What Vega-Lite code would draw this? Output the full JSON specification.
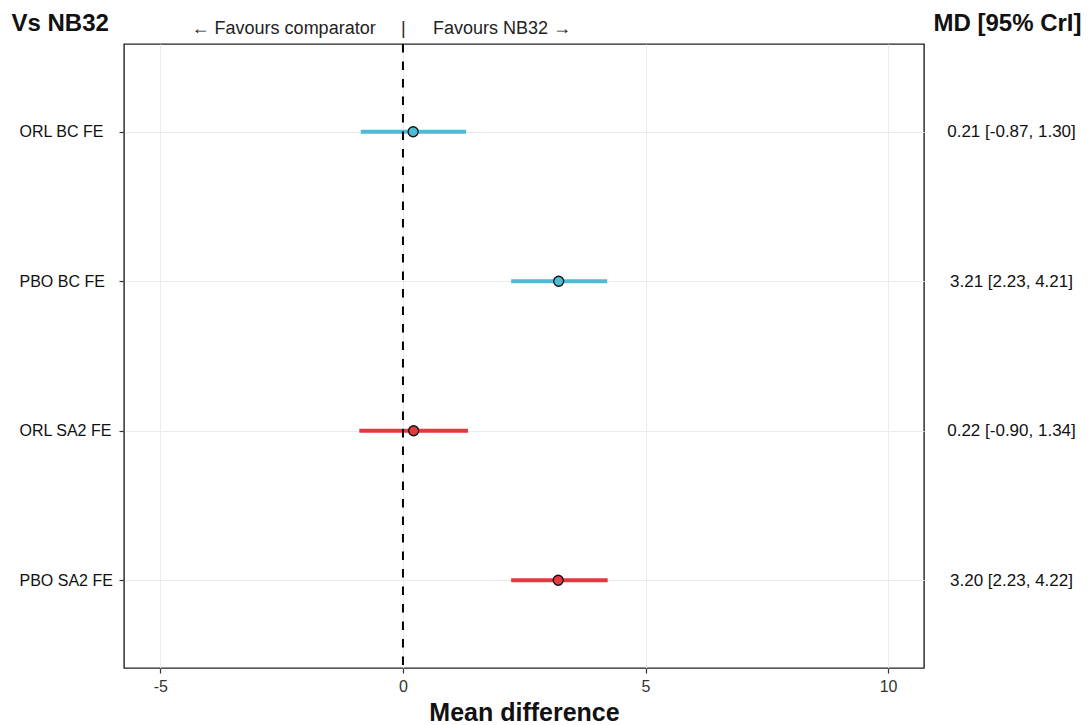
{
  "$schema": "https://vega.github.io/schema/vega-lite/v6.json",
  "width": 800,
  "height": 624,
  "autosize": {"type": "none"},
  "padding": {"left": 124, "top": 44, "right": 164, "bottom": 57},
  "background": "white",
  "config": {
    "view": {"stroke": "#222222", "strokeWidth": 1.4},
    "font": "Liberation Sans",
    "axis": {"labelFont": "Liberation Sans", "titleFont": "Liberation Sans"}
  },
  "data": {
    "values": [
      {"comparison": "ORL BC FE", "group": "BC", "md": 0.21, "lo": -0.87, "hi": 1.30, "ci": "0.21 [-0.87, 1.30]"},
      {"comparison": "PBO BC FE", "group": "BC", "md": 3.21, "lo": 2.23, "hi": 4.21, "ci": "3.21 [2.23, 4.21]"},
      {"comparison": "ORL SA2 FE", "group": "SA2", "md": 0.22, "lo": -0.90, "hi": 1.34, "ci": "0.22 [-0.90, 1.34]"},
      {"comparison": "PBO SA2 FE", "group": "SA2", "md": 3.20, "lo": 2.23, "hi": 4.22, "ci": "3.20 [2.23, 4.22]"}
    ]
  },
  "resolve": {"scale": {"y": "independent"}, "axis": {"x": "independent", "y": "independent"}},
  "layer": [
    {
      "layer": [
        {
          "mark": {"type": "rule", "strokeWidth": 4, "strokeCap": "butt"},
          "encoding": {
            "y": {
              "field": "comparison", "type": "nominal", "sort": null,
              "scale": {"type": "point", "padding": 0.587},
              "axis": {
                "title": "Vs NB32", "titleAngle": 0, "titleAlign": "left", "titleBaseline": "alphabetic",
                "titleX": -113, "titleY": -14, "titleFontSize": 24, "titleFontWeight": "bold", "titleColor": "#111111",
                "labelAlign": "left", "labelPadding": 100, "labelFontSize": 16, "labelColor": "#111111",
                "tickSize": 5, "tickColor": "#333333", "tickWidth": 1.2, "domain": false,
                "grid": true, "gridColor": "#EBEBEB", "gridWidth": 1
              }
            },
            "x": {
              "field": "lo", "type": "quantitative",
              "scale": {"domain": [-5.75, 10.74], "nice": false, "zero": false},
              "axis": {
                "title": "Mean difference", "titleFontSize": 25, "titleFontWeight": "bold", "titleColor": "#111111", "titlePadding": 6,
                "values": [-5, 0, 5, 10], "labelExpr": "toString(datum.value)", "labelFontSize": 16, "labelColor": "#333333",
                "labelPadding": 5, "tickSize": 5, "tickColor": "#333333", "tickWidth": 1.2, "domain": false,
                "grid": true, "gridColor": "#EBEBEB", "gridWidth": 1
              }
            },
            "x2": {"field": "hi"},
            "color": {
              "field": "group", "type": "nominal",
              "scale": {"domain": ["BC", "SA2"], "range": ["#4DBBD5", "#E4383F"]},
              "legend": null
            }
          }
        },
        {
          "data": {"values": [{"ref": 0}]},
          "mark": {"type": "rule", "strokeDash": [8.5, 9], "strokeWidth": 2, "color": "black"},
          "encoding": {
            "x": {"field": "ref", "type": "quantitative", "scale": {"domain": [-5.75, 10.74], "nice": false, "zero": false}}
          }
        },
        {
          "mark": {"type": "circle", "size": 100, "stroke": "#111111", "strokeWidth": 1.3, "opacity": 1},
          "encoding": {
            "y": {"field": "comparison", "type": "nominal", "sort": null},
            "x": {"field": "md", "type": "quantitative"},
            "fill": {
              "field": "group", "type": "nominal",
              "scale": {"domain": ["BC", "SA2"], "range": ["#4DBBD5", "#E4383F"]},
              "legend": null
            }
          }
        }
      ]
    },
    {
      "mark": {"type": "point", "opacity": 0},
      "encoding": {
        "x": {
          "field": "md", "type": "quantitative",
          "scale": {"domain": [-5.75, 10.74], "nice": false, "zero": false},
          "axis": {
            "orient": "top", "title": null, "values": [-2.47, 0, 2.03],
            "labelExpr": "datum.value < -1 ? '← Favours comparator' : (datum.value > 1 ? 'Favours NB32 →' : '|')",
            "labelFontSize": 18, "labelColor": "#222222", "labelPadding": 7,
            "labelLimit": 0, "labelOverlap": false, "labelBound": false,
            "ticks": false, "tickSize": 0, "domain": false, "grid": false
          }
        },
        "y": {
          "field": "ci", "type": "nominal", "sort": null,
          "scale": {"type": "point", "padding": 0.587},
          "axis": {
            "orient": "right", "title": "MD [95% CrI]", "titleAngle": 0, "titleAlign": "right", "titleBaseline": "alphabetic",
            "titleX": 157, "titleY": -14, "titleFontSize": 24, "titleFontWeight": "bold", "titleColor": "#111111",
            "labelAlign": "center", "labelPadding": 87, "labelFontSize": 17, "labelColor": "#111111", "labelLimit": 0,
            "ticks": false, "tickSize": 0, "domain": false, "grid": false
          }
        }
      }
    }
  ]
}
